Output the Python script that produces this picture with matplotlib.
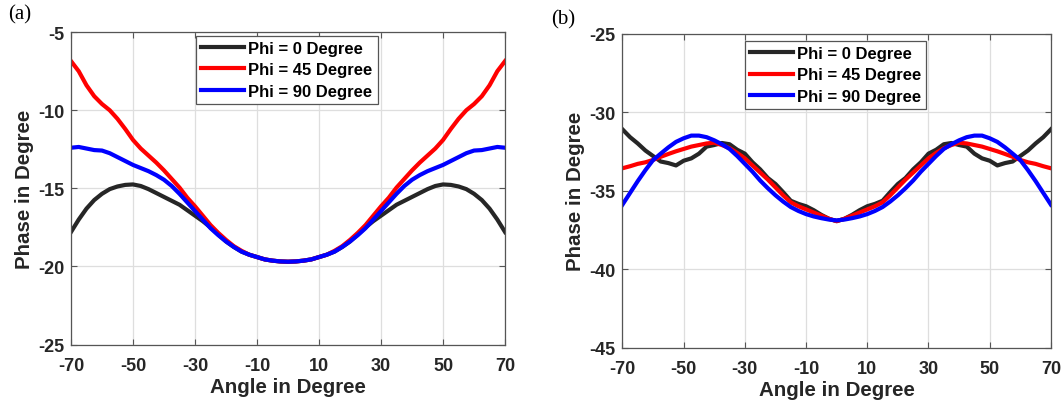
import numpy as np
import matplotlib
matplotlib.use("Agg")
import matplotlib.pyplot as plt

plt.rcParams['font.family'] = ['Liberation Sans', 'DejaVu Sans']
plt.rcParams['font.weight'] = 'bold'
plt.rcParams['axes.unicode_minus'] = False

# ---- data ----
angle = [-70, -67.5, -65, -62.5, -60, -57.5, -55, -52.5, -50, -47.5, -45, -42.5,
         -40, -37.5, -35, -32.5, -30, -27.5, -25, -22.5, -20, -17.5, -15, -12.5,
         -10, -7.5, -5, -2.5, 0, 2.5, 5, 7.5, 10, 12.5, 15, 17.5, 20, 22.5, 25,
         27.5, 30, 32.5, 35, 37.5, 40, 42.5, 45, 47.5, 50, 52.5, 55, 57.5, 60,
         62.5, 65, 67.5, 70]

# panel (a)
phi0_a = [-17.8, -17.0, -16.3, -15.75, -15.35, -15.05, -14.88, -14.78, -14.75, -14.85,
          -15.05, -15.3, -15.55, -15.8, -16.05, -16.4, -16.75, -17.1, -17.5, -17.95,
          -18.4, -18.75, -19.05, -19.25, -19.4, -19.55, -19.63, -19.68, -19.7,
          -19.68, -19.63, -19.55, -19.4, -19.25, -19.05, -18.75, -18.4, -17.95, -17.5,
          -17.1, -16.75, -16.4, -16.05, -15.8, -15.55, -15.3, -15.05, -14.85, -14.75,
          -14.78, -14.88, -15.05, -15.35, -15.75, -16.3, -17.0, -17.8]
phi45_a = [-6.85, -7.5, -8.4, -9.1, -9.6, -10.0, -10.55, -11.2, -11.9, -12.45,
           -12.9, -13.35, -13.85, -14.4, -14.95, -15.6, -16.15, -16.75, -17.35, -17.85,
           -18.3, -18.7, -19.0, -19.25, -19.4, -19.55, -19.63, -19.68, -19.7,
           -19.68, -19.63, -19.55, -19.4, -19.25, -19.0, -18.7, -18.3, -17.85, -17.35,
           -16.75, -16.15, -15.6, -14.95, -14.4, -13.85, -13.35, -12.9, -12.45, -11.9,
           -11.2, -10.55, -10.0, -9.6, -9.1, -8.4, -7.5, -6.85]
phi90_a = [-12.4, -12.35, -12.45, -12.55, -12.58, -12.75, -13.0, -13.25, -13.5, -13.7,
           -13.9, -14.15, -14.45, -14.85, -15.35, -15.9, -16.45, -17.0, -17.55, -18.0,
           -18.4, -18.75, -19.05, -19.25, -19.4, -19.55, -19.63, -19.68, -19.7,
           -19.68, -19.63, -19.55, -19.4, -19.25, -19.05, -18.75, -18.4, -18.0, -17.55,
           -17.0, -16.45, -15.9, -15.35, -14.85, -14.45, -14.15, -13.9, -13.7, -13.5,
           -13.25, -13.0, -12.75, -12.58, -12.55, -12.45, -12.35, -12.4]

# panel (b)
phi0_b = [-31.1, -31.6, -32.0, -32.45, -32.8, -33.15, -33.25, -33.4, -33.1, -32.95,
          -32.65, -32.2, -32.1, -31.97, -32.05, -32.4, -32.65, -33.2, -33.65, -34.2,
          -34.58, -35.1, -35.65, -35.85, -36.0, -36.25, -36.55, -36.8, -36.95,
          -36.8, -36.55, -36.25, -36.0, -35.85, -35.65, -35.1, -34.58, -34.2, -33.65,
          -33.2, -32.65, -32.4, -32.05, -31.97, -32.1, -32.2, -32.65, -32.95, -33.1,
          -33.4, -33.25, -33.15, -32.8, -32.45, -32.0, -31.6, -31.1]
phi45_b = [-33.58, -33.45, -33.3, -33.2, -33.05, -32.85, -32.67, -32.5, -32.35, -32.2,
           -32.1, -32.0, -31.95, -32.1, -32.3, -32.6, -32.95, -33.4, -33.85, -34.3,
           -34.8, -35.3, -35.75, -36.0, -36.2, -36.4, -36.6, -36.8, -36.95,
           -36.8, -36.6, -36.4, -36.2, -36.0, -35.75, -35.3, -34.8, -34.3, -33.85,
           -33.4, -32.95, -32.6, -32.3, -32.1, -31.95, -32.0, -32.1, -32.2, -32.35,
           -32.5, -32.67, -32.85, -33.05, -33.2, -33.3, -33.45, -33.58]
phi90_b = [-35.9, -35.15, -34.4, -33.7, -33.06, -32.65, -32.25, -31.9, -31.67, -31.5,
           -31.5, -31.6, -31.8, -32.05, -32.35, -32.8, -33.3, -33.8, -34.36, -34.85,
           -35.3, -35.7, -36.05, -36.3, -36.5, -36.65, -36.76, -36.85, -36.9,
           -36.85, -36.76, -36.65, -36.5, -36.3, -36.05, -35.7, -35.3, -34.85, -34.36,
           -33.8, -33.3, -32.8, -32.35, -32.05, -31.8, -31.6, -31.5, -31.5, -31.67,
           -31.9, -32.25, -32.65, -33.06, -33.7, -34.4, -35.15, -35.9]

labels = ['Phi = 0 Degree', 'Phi = 45 Degree', 'Phi = 90 Degree']
colors = ['#262626', '#ff0000', '#0000ff']
xticks = [-70, -50, -30, -10, 10, 30, 50, 70]

fig = plt.figure(figsize=(10.64, 4.02), dpi=100)
ax1 = fig.add_axes([0.0667, 0.1405, 0.408, 0.777])
ax2 = fig.add_axes([0.585, 0.133, 0.4027, 0.781])


def style(ax, ylim, legend_top):
    ax.set_xlim(-70, 70)
    ax.set_ylim(*ylim)
    ax.set_xticks(xticks)
    ax.set_yticks(np.arange(ylim[0], ylim[1] + 1, 5))
    ax.grid(True, color='#dedede', linewidth=0.9)
    ax.set_axisbelow(True)
    for s in ax.spines.values():
        s.set_color('#555555')
        s.set_linewidth(0.9)
    ax.tick_params(direction='in', length=4, width=0.8, colors='#555555',
                   top=True, right=True, labelsize=13, labelcolor='#262626')
    ax.tick_params(axis='x', pad=9)
    ax.tick_params(axis='y', pad=5)
    for t in ax.get_xticklabels() + ax.get_yticklabels():
        t.set_fontweight('bold')
    ax.set_xlabel('Angle in Degree', fontsize=14.8, fontweight='bold', color='#262626', labelpad=2)
    ax.set_ylabel('Phase in Degree', fontsize=14.8, fontweight='bold', color='#262626', labelpad=3)
    leg = ax.legend(loc='upper center', bbox_to_anchor=(0.497, legend_top), fontsize=12,
                    handlelength=2.6, handletextpad=0.25, labelspacing=0.38,
                    borderpad=0.3, borderaxespad=0, fancybox=False, framealpha=1)
    leg.get_frame().set_edgecolor('#555555')
    leg.get_frame().set_linewidth(0.9)
    for t in leg.get_texts():
        t.set_fontweight('bold')


for y, lab, c in zip([phi0_a, phi45_a, phi90_a], labels, colors):
    ax1.plot(angle, y, color=c, lw=3, label=lab)
style(ax1, (-25, -5), 0.988)

for y, lab, c in zip([phi0_b, phi45_b, phi90_b], labels, colors):
    ax2.plot(angle, y, color=c, lw=3, label=lab)
style(ax2, (-45, -25), 0.976)

fig.text(0.0075, 0.962, '(a)', fontsize=15, family='Liberation Serif', fontweight='normal', va='center')
fig.text(0.518, 0.95, '(b)', fontsize=15, family='Liberation Serif', fontweight='normal', va='center')

fig.savefig('out.png', dpi=100)
